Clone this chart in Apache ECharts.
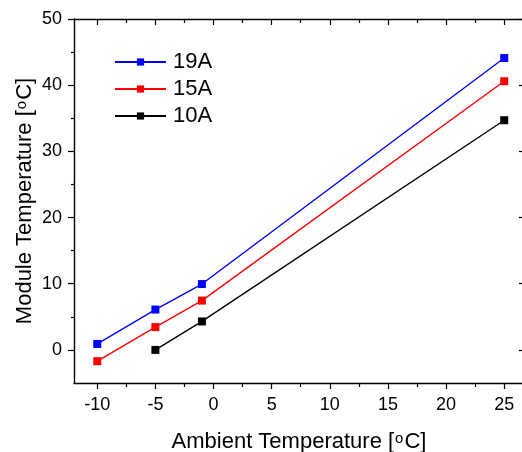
<!DOCTYPE html>
<html>
<head>
<meta charset="utf-8">
<script src="https://cdn.jsdelivr.net/npm/echarts@6/dist/echarts.min.js"></script>
<style>
html,body{margin:0;padding:0;background:#fff;}
#chart{width:522px;height:452px;}
</style>
</head>
<body>
<div id="chart"></div>
<script>
// Data
var seriesNames = ['19A', '15A', '10A'];
var seriesColors = ['#0000ff', '#ff0000', '#000000'];
var x19 = [-10, -5, -1, 25];
var y19 = [0.9, 6.1, 9.95, 44.1];
var x15 = [-10, -5, -1, 25];
var y15 = [-1.7, 3.45, 7.45, 40.6];
var x10 = [-5, -1, 25];
var y10 = [0.0, 4.3, 34.7];
var xMajorTicks = [-10, -5, 0, 5, 10, 15, 20, 25];
var xMinorTicks = [-7.5, -2.5, 2.5, 7.5, 12.5, 17.5, 22.5];
var yMajorTicks = [0, 10, 20, 30, 40, 50];
var yMinorTicks = [5, 15, 25, 35, 45];

function pairs(xs, ys) { return xs.map(function (x, i) { return [x, ys[i]]; }); }

var FONT = "'Liberation Sans', Arial, sans-serif";
var chart = echarts.init(document.getElementById('chart'), null, {renderer: 'canvas'});

var xMin = -12, xMax = 26.7, yMin = -5, yMax = 50;

function lineOpt(show) {
  return {show: show, onZero: false, lineStyle: {color: '#000', width: 1.4}};
}
function xAx(pos, ticks, len, inside, line, labels, extra) {
  var a = {
    type: 'value', position: pos, min: xMin, max: xMax,
    axisLine: lineOpt(line),
    axisTick: {show: true, inside: inside, length: len, customValues: ticks, lineStyle: {color: '#000', width: 1.2}},
    axisLabel: labels ? {show: true, customValues: ticks, margin: 13, fontSize: 18, color: '#000', fontFamily: FONT} : {show: false},
    splitLine: {show: false}
  };
  return Object.assign(a, extra || {});
}
function yAx(pos, ticks, len, inside, line, labels, extra) {
  var a = {
    type: 'value', position: pos, min: yMin, max: yMax,
    axisLine: lineOpt(line),
    axisTick: {show: true, inside: inside, length: len, customValues: ticks, lineStyle: {color: '#000', width: 1.2}},
    axisLabel: labels ? {show: true, customValues: ticks, margin: 12, fontSize: 18, color: '#000', fontFamily: FONT} : {show: false},
    splitLine: {show: false}
  };
  return Object.assign(a, extra || {});
}

var series = [
  {name: seriesNames[0], data: pairs(x19, y19), color: seriesColors[0]},
  {name: seriesNames[1], data: pairs(x15, y15), color: seriesColors[1]},
  {name: seriesNames[2], data: pairs(x10, y10), color: seriesColors[2]}
].map(function (s) {
  return {
    type: 'line', name: s.name, data: s.data, xAxisIndex: 0, yAxisIndex: 0,
    symbol: 'rect', symbolSize: 8, showSymbol: true,
    lineStyle: {color: s.color, width: 1.4},
    itemStyle: {color: s.color},
    emphasis: {disabled: true}, animation: false
  };
});

var richName = {
  a: {fontSize: 22, fontFamily: FONT, color: '#000', verticalAlign: 'top', lineHeight: 22},
  s: {fontSize: 15, fontFamily: FONT, color: '#000', verticalAlign: 'top', lineHeight: 22, padding: [0, 1, 0, 1]}
};

chart.setOption({
  backgroundColor: '#fff',
  animation: false,
  grid: {left: 74, top: 19, width: 450, height: 364, containLabel: false, outerBoundsMode: 'none'},
  legend: {
    data: seriesNames, left: 114, top: 51, orient: 'vertical',
    itemWidth: 51, itemHeight: 9, itemGap: 5, padding: 0,
    textStyle: {fontSize: 22, color: '#000', fontFamily: FONT, lineHeight: 22, padding: [0, 0, 0, 2]}
  },
  xAxis: [
    xAx('bottom', xMajorTicks, 6, false, true, true, {
      name: '{a|Ambient Temperature [}{s|o}{a|C]}', nameLocation: 'middle', nameGap: 48, nameMoveOverlap: false,
      nameTextStyle: {color: '#000', fontFamily: FONT, fontSize: 22, rich: richName}
    }),
    xAx('bottom', xMinorTicks, 4, false, false, false),
    xAx('top', xMajorTicks, 6, true, true, false),
    xAx('top', xMinorTicks, 4, true, false, false)
  ],
  yAxis: [
    yAx('left', yMajorTicks, 6, false, true, true, {
      name: '{a|Module Temperature [}{s|o}{a|C]}', nameLocation: 'middle', nameGap: 38, nameMoveOverlap: false,
      nameTextStyle: {color: '#000', fontFamily: FONT, fontSize: 22, rich: richName}
    }),
    yAx('left', yMinorTicks, 3, false, false, false),
    yAx('right', yMajorTicks, 5, true, true, false)
  ],
  series: series
});
</script>
</body>
</html>
